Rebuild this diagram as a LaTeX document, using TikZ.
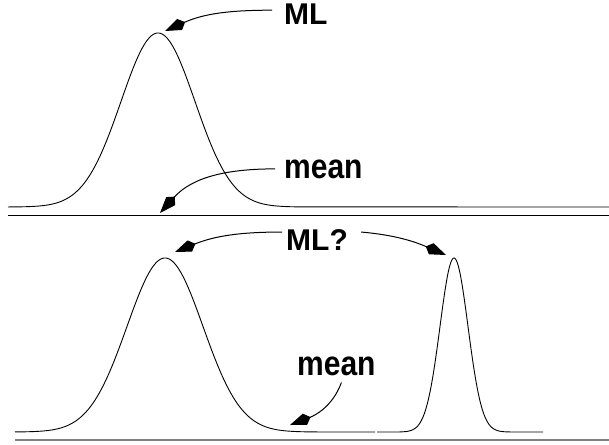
\documentclass[tikz,border=0pt]{standalone}
\usepackage{fontspec}
\setmainfont{Liberation Sans}
\usetikzlibrary{arrows.meta}
\tikzset{
  pk-label/.style={font=\fontsize{30}{35}\selectfont\bfseries,
    inner sep=0pt, anchor=base west},
  pk-curve/.style={line width=0.9pt, draw=black},
  pk-flow/.style={-{Kite[length=22pt, width=12pt, inset=6pt]},
    line width=1pt, draw=black},
  pk-rule/.style={line width=1pt, draw=black}
}
\newcommand{\tallword}[1]{\scalebox{1}[1.15]{#1}}

\begin{document}
\begin{tikzpicture}[x=1pt, y=-1pt]
\useasboundingbox (0,0) rectangle (609,444);
% --- upper panel: one peak ---
\draw[pk-curve] plot[domain=8:300, samples=160, smooth]
  (\x, {207-174*exp(-0.5*((\x-158)/37)*((\x-158)/37))}) -- (609,207);
\draw[pk-rule] (8,215) -- (609,215);
\coordinate (tipML) at (165,31);
\coordinate (tipMeanTop) at (160,213);
\node[pk-label] (ML) at (284,25) {ML};
\node[pk-label] (meanTop) at (284,178) {\tallword{mean}};

% --- lower panel: two peaks ---
\draw[pk-curve] plot[domain=15:330, samples=170, smooth]
  (\x, {432-174*exp(-0.5*((\x-165)/38)*((\x-165)/38))}) -- (375,432);
\draw[pk-curve] (377,432) -- (400,432)
  plot[domain=400:510, samples=120, smooth]
  (\x, {432-174*exp(-0.5*((\x-454)/14)*((\x-454)/14))}) -- (543,432);
\draw[pk-rule, draw=gray, line width=1.8pt] (15,440) -- (609,440);
\coordinate (tipL) at (175,252);
\coordinate (tipR) at (446,255);
\coordinate (tipMeanBot) at (290,425);
\node[pk-label] (mlq) at (286,250) {ML?};
\node[pk-label] (meanBot) at (297,375) {\tallword{mean}};

% --- pointers ---
\draw[pk-flow] ([xshift=-12pt, yshift=4.5pt]ML.west) to[out=180, in=24] (tipML);
\draw[pk-flow] ([xshift=-9pt]meanTop.west) to[out=180, in=48] (tipMeanTop);
\draw[pk-flow] ([xshift=-4pt, yshift=7.5pt]mlq.west) to[out=180, in=22] (tipL);
\draw[pk-flow] ([xshift=13pt, yshift=7.5pt]mlq.east) to[out=-5, in=157] (tipR);
\draw[pk-flow] ([xshift=5pt, yshift=-7pt]meanBot.south) to[out=250, in=21] (tipMeanBot);
\end{tikzpicture}
\end{document}
